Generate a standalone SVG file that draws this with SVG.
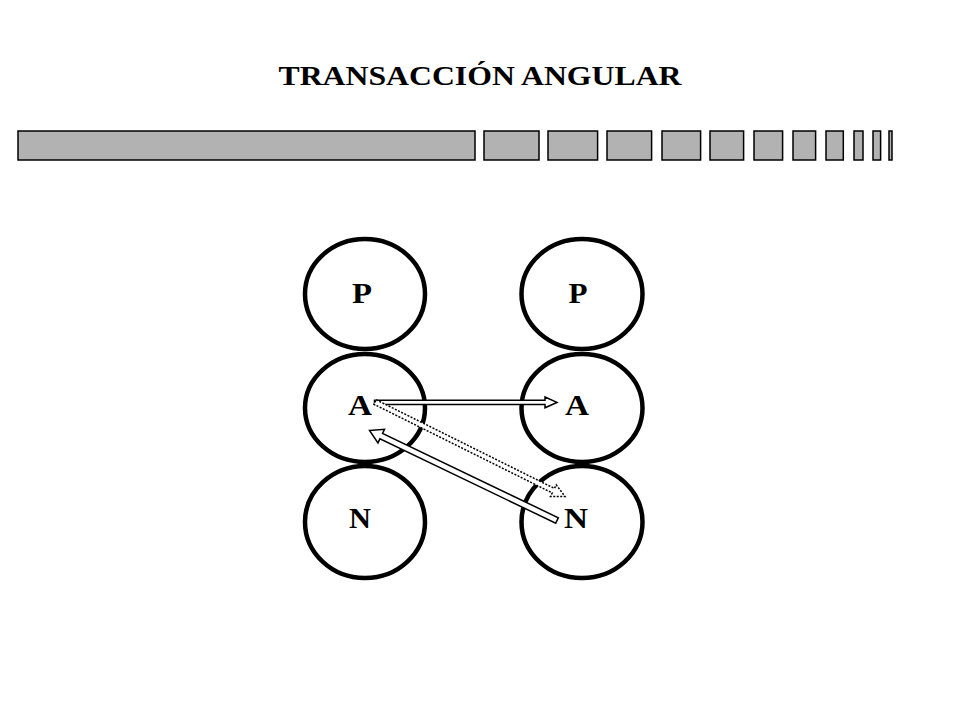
<svg xmlns="http://www.w3.org/2000/svg" width="960" height="720" viewBox="0 0 960 720">
<style>
.bg{fill:#ffffff}
.bar{fill:#b2b2b2;stroke:#000;stroke-width:1.5}
.node{fill:none;stroke:#000;stroke-width:4.5}
.lbl{font-family:"Liberation Serif","Times New Roman",serif;font-weight:bold;font-size:29px;fill:#000;text-anchor:middle}
.title{font-family:"Liberation Serif","Times New Roman",serif;font-weight:bold;font-size:27px;fill:#000;text-anchor:middle}
.arrow{fill:#fff;stroke:#000;stroke-width:1.5;stroke-linejoin:miter}
.dotted{fill:#fff;stroke:#000;stroke-width:1.5;stroke-dasharray:2 1.5}
</style>
<rect class="bg" x="0" y="0" width="960" height="720"/>
<text class="title" x="480" y="84.5" textLength="403" lengthAdjust="spacingAndGlyphs">TRANSACCIÓN ANGULAR</text>
<g id="bars">
<rect class="bar" x="18" y="131" width="457" height="29"/>
<rect class="bar" x="484" y="131" width="55" height="29"/>
<rect class="bar" x="548" y="131" width="49.6" height="29"/>
<rect class="bar" x="607" y="131" width="44.6" height="29"/>
<rect class="bar" x="662" y="131" width="38.6" height="29"/>
<rect class="bar" x="710" y="131" width="33.6" height="29"/>
<rect class="bar" x="754" y="131" width="28.6" height="29"/>
<rect class="bar" x="793" y="131" width="22.6" height="29"/>
<rect class="bar" x="826" y="131" width="17.3" height="29"/>
<rect class="bar" x="854" y="131" width="9" height="29"/>
<rect class="bar" x="873" y="131" width="7.6" height="29"/>
<rect class="bar" x="889" y="131" width="3" height="29"/>
</g>
<g id="left-P"><ellipse class="node" cx="365" cy="294" rx="60" ry="55"/><text class="lbl" x="362" y="303" textLength="20" lengthAdjust="spacingAndGlyphs">P</text></g>
<g id="left-A"><ellipse class="node" cx="365" cy="408" rx="60" ry="54"/><text class="lbl" x="360" y="415" textLength="24" lengthAdjust="spacingAndGlyphs">A</text></g>
<g id="left-N"><ellipse class="node" cx="365" cy="522" rx="60" ry="56"/><text class="lbl" x="360" y="528" textLength="22" lengthAdjust="spacingAndGlyphs">N</text></g>
<g id="right-P"><ellipse class="node" cx="582" cy="294" rx="60.5" ry="55"/><text class="lbl" x="578" y="303" textLength="19" lengthAdjust="spacingAndGlyphs">P</text></g>
<g id="right-A"><ellipse class="node" cx="582" cy="408" rx="60.5" ry="54"/><text class="lbl" x="577" y="415" textLength="24" lengthAdjust="spacingAndGlyphs">A</text></g>
<g id="right-N"><ellipse class="node" cx="582" cy="522" rx="60.5" ry="56"/><text class="lbl" x="576" y="528" textLength="24" lengthAdjust="spacingAndGlyphs">N</text></g>
<g id="connectors">
<polygon class="arrow" points="374.5,400.2 545,400.2 545,397 557,402.4 545,407.8 545,404.6 374.5,404.6"/>
<polygon class="dotted" points="376.11,399.76 554.47,488.47 556.25,484.89 565,496.5 550.47,496.53 552.25,492.95 373.89,404.24"/>
<polygon class="arrow" points="369.5,430.5 384.47,429.37 382.52,433.43 558.3,517.8 555.7,523.2 379.92,438.83 377.97,442.89"/>
</g>
</svg>
